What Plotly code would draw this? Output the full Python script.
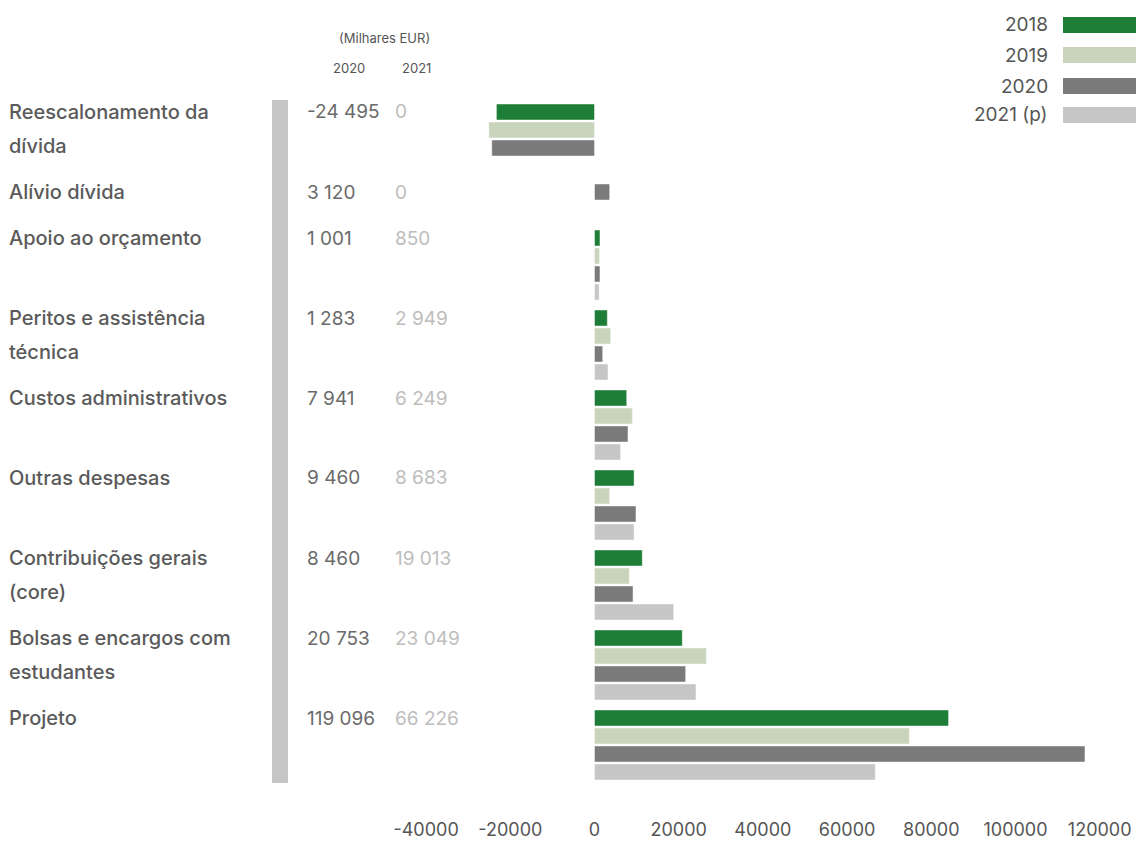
import plotly.graph_objects as go

# ---------------- data ----------------
categories = [
    "Reescalonamento da<br>dívida",
    "Alívio dívida",
    "Apoio ao orçamento",
    "Peritos e assistência<br>técnica",
    "Custos administrativos",
    "Outras despesas",
    "Contribuições gerais<br>(core)",
    "Bolsas e encargos com<br>estudantes",
    "Projeto",
]
years = ["2018", "2019", "2020", "2021 (p)"]
s2018 = [-23300, None, 1300, 3050, 7650, 9400, 11350, 20850, 84100]
s2019 = [-25100, None, 1200, 3850, 8980, 3600, 8270, 26550, 74800]
s2020 = [-24400, 3600, 1300, 1950, 7950, 9850, 9150, 21650, 116500]
s2021 = [None, None, 1100, 3200, 6200, 9400, 18800, 24100, 66700]
table2020 = [-24495, 3120, 1001, 1283, 7941, 9460, 8460, 20753, 119096]
table2021 = [0, 0, 850, 2949, 6249, 8683, 19013, 23049, 66226]
colors = ["#1e7e37", "#c8d5bc", "#7a7a7a", "#c6c6c6"]
tick_vals = [-40000, -20000, 0, 20000, 40000, 60000, 80000, 100000, 120000]

series = [s2018, s2019, s2020, s2021]

# ---------------- layout geometry ----------------
W, H = 1136, 844
ML, MR, MT, MB = 420, 6, 90, 44
PW = W - ML - MR
PH = H - MT - MB
ZERO_PX = 594.5
PX_PER_UNIT = 0.00421
xmin = (ML - ZERO_PX) / PX_PER_UNIT
xmax = (W - MR - ZERO_PX) / PX_PER_UNIT


def px2paper(px):
    return (px - ML) / PW


def py2paper(py):
    return (H - MB - py) / PH


BAR_PITCH = 18
BAR_W = 16
LINE_H = 34
FIRST_C = 112

# row centres following content-height rule
row_c = []
c = FIRST_C
for i, lab in enumerate(categories):
    row_c.append(c)
    nb = sum(1 for s in series if s[i] is not None)
    lines = lab.count("<br>") + 1
    c += max(nb * BAR_PITCH + 8, lines * LINE_H + 12)

fig = go.Figure()
for j, (s, name, col) in enumerate(zip(series, years, colors)):
    xs, ys = [], []
    for i, v in enumerate(s):
        if v is None:
            continue
        k = sum(1 for jj in range(j) if series[jj][i] is not None)
        xs.append(v)
        ys.append(row_c[i] + BAR_PITCH * k)
    fig.add_trace(go.Bar(
        x=xs, y=ys, orientation="h", width=BAR_W, name=name,
        marker=dict(color=col, line=dict(color="rgba(255,255,255,0.45)", width=1)),
        showlegend=False, hoverinfo="x+name",
    ))

FONT = "Inter"
annotations = []
shapes = []


def fmt(v):
    return f"{v:,}".replace(",", " ")


for i, lab in enumerate(categories):
    for l, line in enumerate(lab.split("<br>")):
        annotations.append(dict(
            text=line, xref="paper", yref="paper", x=px2paper(7), y=py2paper(row_c[i] + LINE_H * l),
            xanchor="left", yanchor="middle", showarrow=False,
            font=dict(family=FONT, size=20, color="#5a5a5a", weight=500)))
    annotations.append(dict(
        text=fmt(table2020[i]), xref="paper", yref="paper", x=px2paper(305), y=py2paper(row_c[i]),
        xanchor="left", yanchor="middle", showarrow=False,
        font=dict(family=FONT, size=19, color="#6a6a6a")))
    annotations.append(dict(
        text=fmt(table2021[i]), xref="paper", yref="paper", x=px2paper(393), y=py2paper(row_c[i]),
        xanchor="left", yanchor="middle", showarrow=False,
        font=dict(family=FONT, size=19, color="#bdbdbd")))

# header
for txt, hx, hy in [("(Milhares EUR)", 384, 38), ("2020", 349, 68), ("2021", 416, 68)]:
    annotations.append(dict(text=txt, xref="paper", yref="paper", x=px2paper(hx), y=py2paper(hy),
                            xanchor="center", yanchor="middle", showarrow=False,
                            font=dict(family=FONT, size=13, color="#555555")))

# gray sidebar
shapes.append(dict(type="rect", xref="paper", yref="paper", x0=px2paper(272), x1=px2paper(288),
                   y0=py2paper(783), y1=py2paper(100), fillcolor="#c6c6c6", line=dict(width=0),
                   layer="below"))

# custom legend (text left of swatch)
leg_y = [25, 55, 86, 115]
for name, col, ly in zip(years, colors, leg_y):
    annotations.append(dict(text=name, xref="paper", yref="paper", x=px2paper(1050), y=py2paper(ly),
                            xanchor="right", yanchor="middle", showarrow=False,
                            font=dict(family=FONT, size=19, color="#555555")))
    shapes.append(dict(type="rect", xref="paper", yref="paper", x0=px2paper(1063), x1=px2paper(1136),
                       y0=py2paper(ly + 8), y1=py2paper(ly - 8), fillcolor=col, line=dict(width=0)))

fig.update_layout(
    width=W, height=H,
    margin=dict(l=ML, r=MR, t=MT, b=MB, autoexpand=False),
    paper_bgcolor="white", plot_bgcolor="white",
    barmode="overlay",
    showlegend=False,
    annotations=annotations,
    shapes=shapes,
    xaxis=dict(range=[xmin, xmax], tickvals=tick_vals, ticktext=[str(v) for v in tick_vals],
               showgrid=False, zeroline=False, showline=False, ticks="",
               tickfont=dict(family=FONT, size=18, color="#555555"),
               ticklabelstandoff=17, fixedrange=True, automargin=False),
    yaxis=dict(range=[H - MB, MT], showgrid=False, zeroline=False, showline=False,
               showticklabels=False, ticks="", fixedrange=True, automargin=False),
)

fig.write_html("out.html")
